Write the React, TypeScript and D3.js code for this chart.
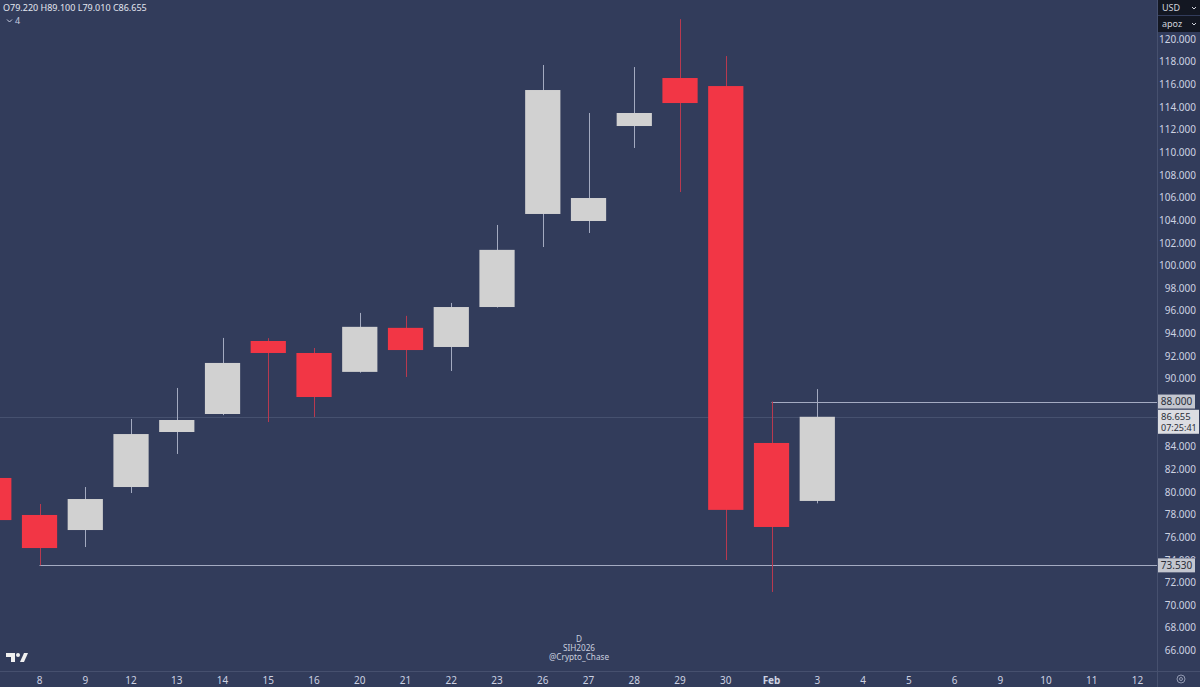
import React from "react";
import * as d3 from "d3";

// ---- data ----
const dates = [
  "2026-01-07", "2026-01-08", "2026-01-09", "2026-01-12", "2026-01-13", "2026-01-14",
  "2026-01-15", "2026-01-16", "2026-01-20", "2026-01-21", "2026-01-22", "2026-01-23",
  "2026-01-26", "2026-01-27", "2026-01-28", "2026-01-29", "2026-01-30", "2026-02-02",
  "2026-02-03",
];
const futureDates = [
  "2026-02-04", "2026-02-05", "2026-02-06", "2026-02-09", "2026-02-10", "2026-02-11", "2026-02-12",
];
const opens = [81.25, 77.98, 76.65, 80.45, 85.31, 86.9, 93.35, 92.29, 90.62, 94.51, 92.82, 96.35, 104.57, 103.95, 112.34, 116.58, 115.87, 84.34, 79.22];
const highs = [81.9, 78.95, 80.45, 86.46, 89.2, 93.62, 93.6, 92.73, 95.83, 95.57, 96.71, 103.6, 117.73, 113.49, 117.55, 121.78, 118.52, 88.0, 89.1];
const lows = [76.9, 73.53, 75.15, 79.92, 83.37, 86.8, 86.19, 86.63, 90.55, 90.17, 90.7, 96.3, 101.65, 102.89, 110.4, 106.51, 74.0, 71.18, 79.01];
const closes = [77.53, 75.06, 79.39, 85.13, 86.37, 91.41, 92.29, 88.4, 94.6, 92.55, 96.35, 101.4, 115.52, 105.98, 113.49, 114.37, 78.43, 76.92, 86.655];

const tickDates = [
  "2026-01-08", "2026-01-09", "2026-01-12", "2026-01-13", "2026-01-14", "2026-01-15",
  "2026-01-16", "2026-01-20", "2026-01-21", "2026-01-22", "2026-01-23", "2026-01-26",
  "2026-01-27", "2026-01-28", "2026-01-29", "2026-01-30", "2026-02-02", "2026-02-03",
  "2026-02-04", "2026-02-05", "2026-02-06", "2026-02-09", "2026-02-10", "2026-02-11", "2026-02-12",
];
const tickLabels = ["8", "9", "12", "13", "14", "15", "16", "20", "21", "22", "23", "26", "27", "28", "29", "30", "Feb", "3", "4", "5", "6", "9", "10", "11", "12"];
const priceTicks = [120, 118, 116, 114, 112, 110, 108, 106, 104, 102, 100, 98, 96, 94, 92, 90, 84, 82, 80, 78, 76, 74, 72, 70, 68, 66];

const highLineValue = 88.0;
const highLineFrom = "2026-02-02";
const lowLineValue = 73.53;
const lowLineFrom = "2026-01-08";
const countdown = "07:25:41";
const watermark = ["D", "SIH2026", "@Crypto_Chase"];

// ---- style ----
const W = 1200;
const H = 687;
const BG = "#323c5b";
const TEXT = "#cdd2e2";
const RED = "#f23645";
const WHITE = "#d1d1d1";
const RED_WICK = "#b8394f";
const WHITE_WICK = "#a3aac0";
const AXIS_X = 1157;
const AXIS_Y = 671;

export default function App() {
  const allDates = [...dates, ...futureDates];
  const x = d3
    .scaleBand<string>()
    .domain(allDates)
    .range([-29.1, 1160.4])
    .paddingInner(0.23)
    .paddingOuter(0.115);
  const y = d3.scaleLinear().domain([66, 120]).range([650.6, 39.3]);
  const bw = x.bandwidth();
  const cx = (d: string) => (x(d) as number) + bw / 2;
  const fmt = d3.format(".3f");

  const last = dates.length - 1;
  const lastClose = closes[last];

  return (
    <svg
      width={W}
      height={H}
      style={{ position: "absolute", left: 0, top: 0, display: "block", background: BG }}
      fontFamily="'Noto Sans', 'DejaVu Sans', sans-serif"
    >
      <rect x={0} y={0} width={W} height={H} fill={BG} />
      <defs>
        <clipPath id="plot">
          <rect x={0} y={0} width={AXIS_X} height={AXIS_Y} />
        </clipPath>
        <clipPath id="tick74">
          <rect x={AXIS_X} y={0} width={W - AXIS_X} height={y(lowLineValue) - 7} />
        </clipPath>
      </defs>

      {/* separators */}
      <line x1={0} x2={W} y1={AXIS_Y + 0.5} y2={AXIS_Y + 0.5} stroke="#46506e" />
      <line x1={AXIS_X + 0.5} x2={AXIS_X + 0.5} y1={0} y2={H} stroke="#46506e" />

      <g clipPath="url(#plot)">
        {/* last price line */}
        <line
          x1={0}
          x2={AXIS_X}
          y1={Math.round(y(lastClose)) + 0.5}
          y2={Math.round(y(lastClose)) + 0.5}
          stroke="#6d7795"
          strokeOpacity={0.35}
        />
        {/* horizontal rays */}
        <line
          x1={cx(highLineFrom)}
          x2={AXIS_X}
          y1={Math.round(y(highLineValue)) + 0.5}
          y2={Math.round(y(highLineValue)) + 0.5}
          stroke="#a4abc2"
        />
        <line
          x1={cx(lowLineFrom)}
          x2={AXIS_X}
          y1={Math.round(y(lowLineValue)) + 0.5}
          y2={Math.round(y(lowLineValue)) + 0.5}
          stroke="#a4abc2"
        />

        {/* candles */}
        {dates.map((d, i) => {
          const up = closes[i] >= opens[i];
          const c = Math.round(cx(d)) + 0.5;
          const top = y(Math.max(opens[i], closes[i]));
          const bot = y(Math.min(opens[i], closes[i]));
          return (
            <g key={d}>
              <line
                x1={c}
                x2={c}
                y1={y(highs[i])}
                y2={y(lows[i])}
                stroke={up ? WHITE_WICK : RED_WICK}
                strokeWidth={1}
              />
              <rect
                x={x(d) as number}
                y={top}
                width={bw}
                height={Math.max(1, bot - top)}
                fill={up ? WHITE : RED}
              />
            </g>
          );
        })}
      </g>

      {/* price axis */}
      <g fontSize={10} fill={TEXT}>
        {priceTicks.map((p) => (
          <text
            key={p}
            x={1196}
            y={y(p)}
            dy="0.35em"
            textAnchor="end"
            clipPath={p === 74 ? "url(#tick74)" : undefined}
          >
            {fmt(p)}
          </text>
        ))}
      </g>

      {/* price labels */}
      <g fontSize={10}>
        <rect x={1158} y={y(highLineValue) - 7} width={37} height={14} fill="#c3c6cf" />
        <text x={1176.5} y={y(highLineValue)} dy="0.35em" textAnchor="middle" fill="#2a2e39">
          {fmt(highLineValue)}
        </text>

        <rect x={1158} y={y(lastClose) - 7} width={41} height={24} fill="#dcdde2" />
        <text x={1161} y={y(lastClose)} dy="0.35em" fill="#2a2e39" fontSize={9.5}>
          {fmt(lastClose)}
        </text>
        <text x={1161} y={y(lastClose) + 11} dy="0.35em" fill="#2a2e39" fontSize={9}>
          {countdown}
        </text>

        <rect x={1158} y={y(lowLineValue) - 7} width={37} height={14} fill="#c3c6cf" />
        <text x={1176.5} y={y(lowLineValue)} dy="0.35em" textAnchor="middle" fill="#2a2e39">
          {fmt(lowLineValue)}
        </text>
      </g>

      {/* currency / unit boxes */}
      <g fontSize={9} fill="#d1d4dc">
        <rect x={1158} y={0} width={42} height={15} fill="#131722" />
        <text x={1162} y={8} dy="0.35em">USD</text>
        <path d="M1192,7 l2,2 l2,-2" stroke="#d1d4dc" fill="none" />
        <rect x={1158} y={16} width={42} height={16} fill="#131722" />
        <text x={1162} y={24} dy="0.35em">apoz</text>
        <path d="M1192,23 l2,2 l2,-2" stroke="#d1d4dc" fill="none" />
      </g>

      {/* time axis */}
      <g fontSize={10} fill={TEXT}>
        {tickDates.map((d, i) => (
          <text
            key={d}
            x={cx(d)}
            y={680}
            dy="0.35em"
            textAnchor="middle"
            fontWeight={tickLabels[i] === "Feb" ? "bold" : "normal"}
          >
            {tickLabels[i]}
          </text>
        ))}
      </g>

      {/* gear */}
      <circle cx={1181} cy={679} r={4} fill="none" stroke="#9098b0" />
      <circle cx={1181} cy={679} r={1.5} fill="none" stroke="#9098b0" />

      {/* OHLC header */}
      <text x={3} y={8} dy="0.35em" fontSize={9} fill="#e3e6ef">
        {`O${fmt(opens[last])} H${fmt(highs[last])} L${fmt(lows[last])} C${fmt(closes[last])}`}
      </text>
      <path d="M7,19.5 l2.5,2.5 l2.5,-2.5" stroke="#c8cde0" fill="none" />
      <text x={15} y={21} dy="0.35em" fontSize={9} fill="#c8cde0">4</text>

      {/* watermark */}
      <g fontSize={8.2} fill="#c9cedf" textAnchor="middle">
        {watermark.map((t, i) => (
          <text key={t} x={579} y={639 + i * 9.2} dy="0.35em">
            {t}
          </text>
        ))}
      </g>

      {/* logo */}
      <g fill="#f0f0f0">
        <path d="M6,653 h9 v9 h-4 v-5 h-5 z" />
        <circle cx={18} cy={655} r={2} />
        <path d="M20,662 l4,-9 h4 l-4,9 z" />
      </g>
    </svg>
  );
}
